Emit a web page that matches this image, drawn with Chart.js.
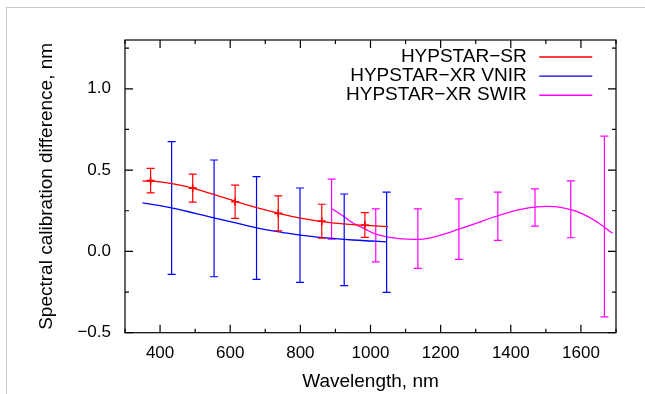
<!DOCTYPE html>
<html lang="en">
<head>
  <meta charset="UTF-8">
  <title>Spectral calibration difference</title>
  <script src="https://cdn.jsdelivr.net/npm/chart.js"></script>
  <style>
    html, body { margin: 0; padding: 0; background: #fff; }
    #frame { position: absolute; left: 6px; top: 7px; width: 639px; height: 387px;
             border-left: 1px solid #c8c8c8; border-top: 1px solid #c8c8c8; }
    #wrap { position: absolute; left: 0; top: 0; width: 645px; height: 394px; }
  </style>
</head>
<body>
  <div id="frame"></div>
  <div id="wrap"><canvas id="chart" width="645" height="394"></canvas></div>

  <script>
    // axis ticks
    const xTicks = [400, 600, 800, 1000, 1200, 1400, 1600];
    const xMinorTicks = [300, 500, 700, 900, 1100, 1300, 1500, 1700];
    const yTicks = [-0.5, 0.0, 0.5, 1.0];
    const yMinorTicks = [-0.25, 0.25, 0.75, 1.25];

    const seriesNames = ['HYPSTAR\u2212SR', 'HYPSTAR\u2212XR VNIR', 'HYPSTAR\u2212XR SWIR'];
    const seriesColors = ['#ff0000', '#0000ff', '#ff00ff'];

    // fitted curves (wavelength, nm / difference, nm)
    const srCurveX = [350, 400, 450, 500, 550, 600, 650, 700, 750, 800, 850, 900, 950, 1000, 1050];
    const srCurveY = [0.434, 0.428, 0.41, 0.385, 0.352, 0.318, 0.285, 0.255, 0.228, 0.205, 0.186, 0.174, 0.165, 0.158, 0.152];
    const vnirCurveX = [350, 400, 450, 500, 550, 600, 650, 700, 750, 800, 850, 900, 950, 1000, 1046];
    const vnirCurveY = [0.299, 0.281, 0.26, 0.234, 0.208, 0.183, 0.157, 0.134, 0.116, 0.1, 0.088, 0.078, 0.07, 0.064, 0.059];
    const swirCurveX = [889, 925, 950, 985, 1015, 1050, 1100, 1150, 1200, 1250, 1300, 1350, 1400, 1450, 1500, 1550, 1600, 1650, 1690];
    const swirCurveY = [0.264, 0.213, 0.175, 0.137, 0.106, 0.088, 0.076, 0.076, 0.1, 0.135, 0.172, 0.21, 0.243, 0.267, 0.277, 0.268, 0.235, 0.175, 0.111];

    // measured points with error bars
    const srPointX = [373, 493, 614, 737, 861, 984];
    const srPointY = [0.435, 0.389, 0.305, 0.234, 0.186, 0.162];
    const srPointErr = [0.075, 0.086, 0.102, 0.108, 0.104, 0.076];
    const vnirPointX = [433, 554, 675, 799, 925, 1046];
    const vnirPointY = [0.267, 0.203, 0.144, 0.1, 0.071, 0.056];
    const vnirPointErr = [0.408, 0.359, 0.316, 0.29, 0.282, 0.308];
    const swirPointX = [889, 1015, 1135, 1252, 1363, 1469, 1571, 1667];
    const swirPointY = [0.26, 0.099, 0.079, 0.137, 0.216, 0.27, 0.259, 0.153];
    const swirPointErr = [0.184, 0.163, 0.183, 0.186, 0.148, 0.115, 0.175, 0.556];

    const family = '"Liberation Sans", Arial, sans-serif';
    const tickFont = { family, size: 17 };
    const titleFont = { family, size: 19 };
    const toXY = (xs, ys) => xs.map((x, i) => ({ x, y: ys[i] }));
    const fmtY = v => v < 0 ? '\u2212' + Math.abs(v).toFixed(1) : v.toFixed(1);

    // error bars drawn right after their own curve
    const errorBarPlugin = {
      id: 'errorBars',
      afterDatasetDraw(chart, args) {
        const ds = chart.data.datasets[args.index];
        const eb = ds.errorBars;
        if (!eb) return;
        const { ctx, chartArea, scales: { x, y } } = chart;
        ctx.save();
        ctx.beginPath();
        ctx.rect(chartArea.left, chartArea.top, chartArea.right - chartArea.left, chartArea.bottom - chartArea.top);
        ctx.clip();
        ctx.strokeStyle = ds.borderColor;
        ctx.lineWidth = 1.2;
        ctx.beginPath();
        eb.x.forEach((wl, i) => {
          const px = x.getPixelForValue(wl);
          const top = y.getPixelForValue(eb.y[i] + eb.err[i]);
          const bot = y.getPixelForValue(eb.y[i] - eb.err[i]);
          ctx.moveTo(px, top); ctx.lineTo(px, bot);
          ctx.moveTo(px - 4, top); ctx.lineTo(px + 4, top);
          ctx.moveTo(px - 4, bot); ctx.lineTo(px + 4, bot);
        });
        ctx.stroke();
        if (eb.cross) {
          ctx.lineWidth = 1.6;
          ctx.beginPath();
          eb.x.forEach((wl, i) => {
            const px = x.getPixelForValue(wl);
            const c = y.getPixelForValue(eb.y[i]);
            ctx.moveTo(px - 4, c); ctx.lineTo(px + 4, c);
            ctx.moveTo(px, c - 4); ctx.lineTo(px, c + 4);
          });
          ctx.stroke();
        }
        ctx.restore();
      }
    };

    // gnuplot-like border with inward ticks on all four sides
    const framePlugin = {
      id: 'frame',
      afterDatasetsDraw(chart) {
        const { ctx, chartArea: a, scales: { x, y } } = chart;
        ctx.save();
        ctx.strokeStyle = '#000';
        ctx.lineWidth = 1.2;
        ctx.beginPath();
        const tick = (vals, len) => {
          vals.forEach(v => {
            const px = x.getPixelForValue(v);
            ctx.moveTo(px, a.bottom); ctx.lineTo(px, a.bottom - len);
            ctx.moveTo(px, a.top); ctx.lineTo(px, a.top + len);
          });
        };
        const ytick = (vals, len) => {
          vals.forEach(v => {
            const py = y.getPixelForValue(v);
            ctx.moveTo(a.left, py); ctx.lineTo(a.left + len, py);
            ctx.moveTo(a.right, py); ctx.lineTo(a.right - len, py);
          });
        };
        tick(xTicks, 8); tick(xMinorTicks, 4);
        ytick(yTicks, 8); ytick(yMinorTicks, 4);
        ctx.stroke();
        ctx.strokeRect(a.left, a.top, a.right - a.left, a.bottom - a.top);
        ctx.restore();
      }
    };

    // key in the top right corner: text then line sample
    const keyPlugin = {
      id: 'key',
      afterDraw(chart) {
        const { ctx, chartArea: a } = chart;
        ctx.save();
        ctx.font = '19px ' + family;
        ctx.textAlign = 'right';
        ctx.textBaseline = 'middle';
        seriesNames.forEach((name, i) => {
          const yy = a.top + 17 + i * 19.1;
          ctx.fillStyle = '#000';
          ctx.fillText(name, a.right - 89.3, yy);
          ctx.strokeStyle = seriesColors[i];
          ctx.lineWidth = 1.4;
          ctx.beginPath();
          ctx.moveTo(a.right - 76.7, yy);
          ctx.lineTo(a.right - 23.7, yy);
          ctx.stroke();
        });
        ctx.restore();
      }
    };

    const lineDs = (i, xs, ys, ex, ey, ee, cross) => ({
      label: seriesNames[i],
      data: toXY(xs, ys),
      borderColor: seriesColors[i],
      borderWidth: 1.3,
      pointRadius: 0,
      tension: 0.4,
      fill: false,
      errorBars: { x: ex, y: ey, err: ee, cross }
    });

    new Chart(document.getElementById('chart'), {
      type: 'line',
      data: {
        datasets: [
          lineDs(0, srCurveX, srCurveY, srPointX, srPointY, srPointErr, true),
          lineDs(1, vnirCurveX, vnirCurveY, vnirPointX, vnirPointY, vnirPointErr, false),
          lineDs(2, swirCurveX, swirCurveY, swirPointX, swirPointY, swirPointErr, false)
        ]
      },
      options: {
        responsive: false,
        animation: false,
        layout: { padding: { top: 40, right: 29, left: 0, bottom: 0 } },
        plugins: { legend: { display: false }, tooltip: { enabled: false } },
        scales: {
          x: {
            type: 'linear', min: 300, max: 1700,
            afterBuildTicks: s => { s.ticks = xTicks.map(v => ({ value: v })); },
            afterFit: s => { s.height = 61.3; },
            grid: { display: false, drawTicks: false },
            border: { display: false },
            ticks: { font: tickFont, color: '#000', padding: 10, maxRotation: 0, callback: v => String(v) },
            title: { display: true, text: 'Wavelength, nm', font: titleFont, color: '#000', padding: { top: 0, bottom: 0.5 } }
          },
          y: {
            type: 'linear', min: -0.5, max: 1.3,
            afterBuildTicks: s => { s.ticks = yTicks.map(v => ({ value: v })); },
            afterFit: s => { s.width = 125; },
            grid: { display: false, drawTicks: false },
            border: { display: false },
            ticks: { font: tickFont, color: '#000', padding: 14, callback: v => fmtY(v) },
            title: { display: true, text: 'Spectral calibration difference, nm', font: titleFont, color: '#000', padding: { top: 35.6, bottom: 0 } }
          }
        }
      },
      plugins: [errorBarPlugin, framePlugin, keyPlugin]
    });
  </script>
</body>
</html>
